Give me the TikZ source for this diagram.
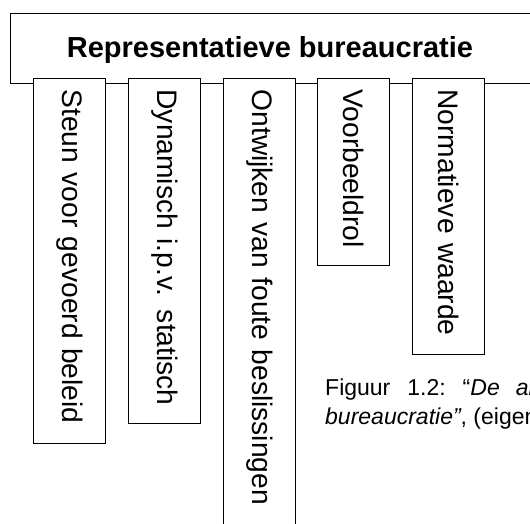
\documentclass[tikz,border=0pt]{standalone}
\usepackage{fontspec}
\setmainfont{Liberation Sans}
\begin{document}
\begin{tikzpicture}[x=1pt,y=-1pt,
  frame/.style={draw=black, line width=1.1pt},
  item/.style={draw=black, line width=1.1pt, fill=white, rotate=-90,
    anchor=south west, minimum height=72pt, inner xsep=11pt, inner ysep=0pt,
    align=left, text width=#1, font=\fontsize{28.2}{34}\selectfont},
  caption/.style={anchor=base west, inner sep=0pt, font=\fontsize{23}{28}\selectfont}]
\useasboundingbox (0,0) rectangle (530,523);
\node[frame, anchor=north west, minimum width=560pt, minimum height=70pt, inner sep=0pt] (top) at (9.5,13) {};
\node[anchor=base, inner sep=0pt, font=\bfseries\fontsize{29}{34}\selectfont] (title) at (270,57) {Representatieve bureaucratie};
\node[item=343pt] (b1) at (33,78) {Steun voor gevoerd beleid};
\node[item=323pt] (b2) at (128,78) {Dynamisch i.p.v. statisch};
\node[item=445pt] (b3) at (223,78) {Ontwijken van foute beslissingen};
\node[item=165pt] (b4) at (317,78) {Voorbeeldrol};
\node[item=254pt] (b5) at (412,78) {Normatieve waarde};
\node[caption] (cap1) at (325,395) {Figuur\hspace{17pt}1.2:\hspace{17pt}“\textit{De}\hspace{16pt}\textit{an}};
\node[caption] (cap2) at (325,424) {\textit{bureaucratie”}, (eigen};
\end{tikzpicture}
\end{document}
